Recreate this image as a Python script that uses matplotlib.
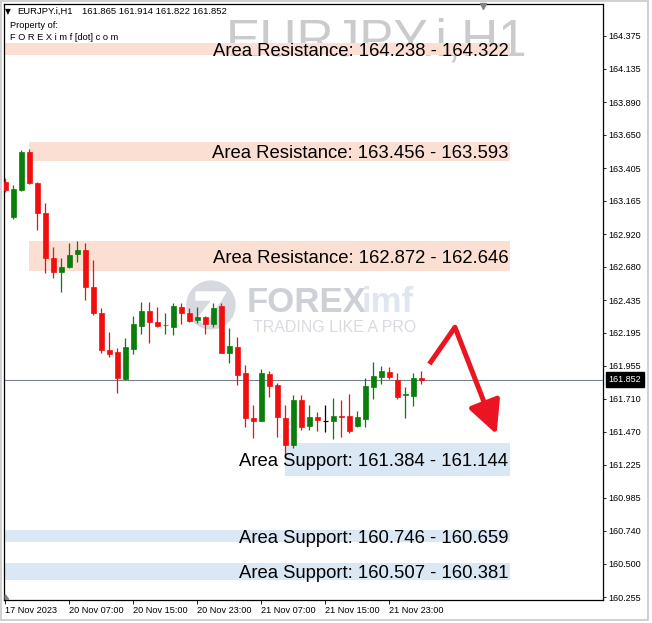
import matplotlib
matplotlib.use("Agg")
import matplotlib.pyplot as plt
from matplotlib.patches import Rectangle, Circle, Polygon
import matplotlib.transforms as mtransforms

# ---- data (EURJPY.i H1 candles) ----
opens = [163.303, 163.043, 163.244, 163.523, 163.297, 163.075, 162.744, 162.644, 162.678, 162.774,
         162.803, 162.532, 162.341, 162.069, 162.057, 161.854, 162.078, 162.245, 162.355, 162.277,
         162.249, 162.240, 162.387, 162.340, 162.289, 162.309, 162.263, 162.392, 162.049, 162.093,
         161.902, 161.567, 161.550, 161.896, 161.812, 161.573, 161.371, 161.702, 161.511, 161.575,
         161.550, 161.550, 161.584, 161.584, 161.511, 161.560, 161.799, 161.873, 161.909, 161.849,
         161.738, 161.731, 161.865]
highs = [163.332, 163.280, 163.537, 163.545, 163.305, 163.150, 162.825, 162.744, 162.857, 162.872,
         162.857, 162.730, 162.377, 162.203, 162.084, 162.157, 162.319, 162.424, 162.424, 162.387,
         162.341, 162.414, 162.416, 162.377, 162.387, 162.319, 162.414, 162.412, 162.228, 162.167,
         161.959, 161.665, 161.927, 161.917, 161.829, 161.665, 161.738, 161.738, 161.665, 161.616,
         161.665, 161.714, 161.702, 161.746, 161.623, 161.861, 161.983, 161.951, 161.946, 161.902,
         161.799, 161.898, 161.914]
lows = [163.229, 163.031, 163.240, 163.288, 162.950, 162.634, 162.598, 162.495, 162.671, 162.717,
        162.436, 162.326, 162.049, 162.020, 161.753, 161.849, 162.040, 162.186, 162.118, 162.240,
        162.186, 162.179, 162.260, 162.277, 162.269, 162.186, 162.240, 162.047, 161.971, 161.812,
        161.506, 161.426, 161.547, 161.726, 161.430, 161.298, 161.347, 161.481, 161.478, 161.476,
        161.469, 161.413, 161.432, 161.457, 161.501, 161.501, 161.707, 161.819, 161.854, 161.707,
        161.567, 161.657, 161.822]
closes = [163.244, 163.249, 163.523, 163.297, 163.075, 162.744, 162.641, 162.680, 162.766, 162.803,
          162.532, 162.341, 162.069, 162.040, 161.861, 162.093, 162.260, 162.355, 162.277, 162.247,
          162.256, 162.394, 162.338, 162.284, 162.309, 162.263, 162.377, 162.049, 162.098, 161.885,
          161.567, 161.549, 161.902, 161.804, 161.575, 161.371, 161.702, 161.503, 161.575, 161.555,
          161.550, 161.584, 161.577, 161.476, 161.575, 161.805, 161.878, 161.917, 161.868, 161.722,
          161.746, 161.861, 161.852]

# zones (low, high, start bar, label)
zone_low = [164.238, 163.456, 162.646, 161.144, 160.659, 160.381]
zone_high = [164.322, 163.593, 162.872, 161.384, 160.746, 160.507]
zone_start = [-1, 3, 3, 35, -1, -1]
zone_end = 63.1
zone_kind = ["res", "res", "res", "sup", "sup", "sup"]
zone_labels = ["Area Resistance: 164.238 - 164.322",
               "Area Resistance: 163.456 - 163.593",
               "Area Resistance: 162.872 - 162.646",
               "Area Support: 161.384 - 161.144",
               "Area Support: 160.746 - 160.659",
               "Area Support: 160.507 - 160.381"]

price_ticks = [164.375, 164.135, 163.890, 163.650, 163.405, 163.165, 162.920, 162.680, 162.435,
               162.195, 161.955, 161.710, 161.470, 161.225, 160.985, 160.740, 160.500, 160.255]
date_tick_pos = [0, 8, 16, 24, 32, 40, 48]
date_tick_labels = ["17 Nov 2023", "20 Nov 07:00", "20 Nov 15:00", "20 Nov 23:00",
                    "21 Nov 07:00", "21 Nov 15:00", "21 Nov 23:00"]

last_price = 161.852
arrow_x = [53.0, 56.2, 61.4]
arrow_y = [161.966, 162.236, 161.450]

# ---- style ----
UP = "#0b7d0b"
DOWN = "#f00f0f"
RES_COLOR = "#fcdfd3"
SUP_COLOR = "#dae8f6"
FONT = ["Liberation Sans", "DejaVu Sans"]
plt.rcParams["font.family"] = FONT

W, H = 652, 623
fig = plt.figure(figsize=(W / 100, H / 100), dpi=100)
# plot frame: x 4..603 px, y 4..600 px
ax = fig.add_axes([4 / W, (H - 600) / H, 599 / W, 596 / H])
ax.set_xlim(-0.16, 74.7)
ax.set_ylim(160.233, 164.610)


def px_to_ax(px, py):
    return (px - 4) / 599, (600 - py) / 596


# symbol watermark
wx, wy = px_to_ax(377, 42)
ax.text(wx, wy, "EURJPY.i,H1", transform=ax.transAxes, fontsize=37, color="#cbcbcb",
        ha="center", va="center", zorder=0)

# FOREXimf logo watermark
cx, cy = px_to_ax(211, 305)
ax.add_patch(Circle((cx, cy), 24 / 599, transform=ax.transAxes, color="#d6d9e0", zorder=0.5))
zshape = [px_to_ax(p[0], p[1]) for p in [(196, 292), (226, 292), (221, 300), (205, 323),
                                          (197, 320), (212, 300), (196, 300)]]
ax.add_patch(Polygon(zshape, closed=True, transform=ax.transAxes, color="white", zorder=0.6))
fx, fy = px_to_ax(247, 303)
ax.text(fx, fy, "FOREX", transform=ax.transAxes, fontsize=25, fontweight="bold",
        color="#cdd0d7", ha="left", va="center", zorder=0.5)
ix, iy = px_to_ax(362, 303)
ax.text(ix, iy, "imf", transform=ax.transAxes, fontsize=25, fontweight="bold",
        color="#dfe6ef", ha="left", va="center", zorder=0.5)
tx, ty = px_to_ax(335, 327)
ax.text(tx, ty, "TRADING LIKE A PRO", transform=ax.transAxes, fontsize=11.5,
        color="#d9dbe0", ha="center", va="center", zorder=0.5)

# zones
for lo, hi, st, kind, lab in zip(zone_low, zone_high, zone_start, zone_kind, zone_labels):
    col = RES_COLOR if kind == "res" else SUP_COLOR
    ax.add_patch(Rectangle((st, lo), zone_end - st, hi - lo, color=col, lw=0, zorder=1))
    ax.annotate(lab, xy=(zone_end - 0.25, (lo + hi) / 2), xytext=(0, -1.5),
                textcoords="offset points", ha="right", va="center",
                fontsize=13.3, color="black", zorder=5)

# current price line
ax.axhline(last_price, color="#78828f", lw=0.8, zorder=2)

# candles
for i, (o, h, l, c) in enumerate(zip(opens, highs, lows, closes)):
    if o == c:
        col = "black"
    else:
        col = UP if c > o else DOWN
    ax.vlines(i, l, h, color=col, lw=0.9, zorder=3)
    if o == c:
        ax.hlines(o, i - 0.33, i + 0.33, color=col, lw=0.9, zorder=3)
    else:
        ax.bar(i, abs(c - o), bottom=min(o, c), width=0.62, color=col,
               edgecolor=col, lw=0.5, zorder=3)

# red arrow
ax.plot(arrow_x[:2], arrow_y[:2], color="#eb1423", lw=3.6, solid_capstyle="butt",
        solid_joinstyle="miter", zorder=4)
ax.annotate("", xy=(arrow_x[2], arrow_y[2]), xytext=(arrow_x[1], arrow_y[1]),
            arrowprops=dict(arrowstyle="-|>,head_length=1.0,head_width=0.5",
                            color="#eb1423", lw=3.6, shrinkA=0, shrinkB=0,
                            mutation_scale=20),
            zorder=4)

# axes styling
for s in ax.spines.values():
    s.set_color("black")
    s.set_linewidth(0.9)
ax.yaxis.tick_right()
ax.set_yticks(price_ticks)
ax.set_yticklabels([f"{v:.3f}" for v in price_ticks])
ax.tick_params(axis="y", length=2.5, width=0.6, pad=1.5, labelsize=6.5, colors="black")
ax.set_xticks(date_tick_pos)
ax.set_xticklabels(date_tick_labels)
ax.tick_params(axis="x", length=3, width=0.6, pad=1.5, labelsize=6.6, colors="black")
for lbl in ax.get_xticklabels():
    lbl.set_ha("left")

# price label on the right axis
blend = mtransforms.blended_transform_factory(ax.transAxes, ax.transData)
ax.text(1.009, last_price, "161.852", transform=blend, fontsize=6.5, color="white",
        ha="left", va="center", zorder=6, clip_on=False,
        bbox=dict(boxstyle="square,pad=0.3", fc="black", ec="black"))

# chart-shift marker and corner marker
mx, my = px_to_ax(483, 6)
ax.plot([mx], [my], marker="v", color="#808080", ms=5, transform=ax.transAxes,
        clip_on=False, zorder=6)
ax.add_patch(Polygon([(0.002, 0.001), (0.008, 0.001), (0.002, 0.009)], closed=True,
                     transform=ax.transAxes, color="#808080", zorder=6))

# header text
fig.text(5 / W, 1 - 11.5 / H, "\u25bc", fontsize=5.5, family=["DejaVu Sans"],
         ha="left", va="center")
fig.text(17 / W, 1 - 11.5 / H, "EURJPY.i,H1", fontsize=6.8, ha="left", va="center")
fig.text(82 / W, 1 - 11.5 / H, "161.865 161.914 161.822 161.852", fontsize=6.8,
         ha="left", va="center")
fig.text(10 / W, 1 - 25 / H, "Property of:", fontsize=6.7, ha="left", va="center")
fig.text(10 / W, 1 - 38 / H, "F O R E X i m f [dot] c o m", fontsize=6.7,
         ha="left", va="center")

# outer window border
fig.add_artist(Rectangle((0.5 / W, 3 / H), 647.5 / W, 619 / H, transform=fig.transFigure,
                         fill=False, edgecolor="#c8c8c8", lw=1.2))

fig.savefig("out.png", dpi=100, facecolor="white")
